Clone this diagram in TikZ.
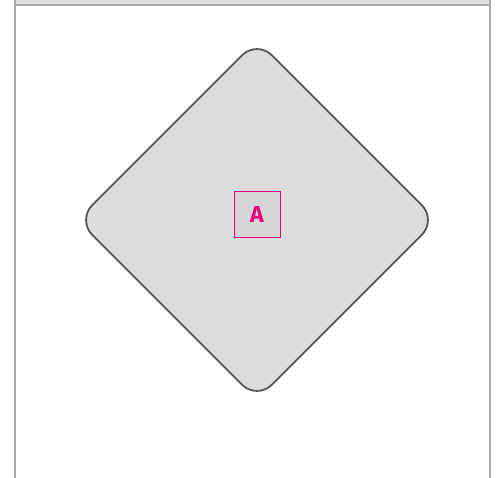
\documentclass[tikz,border=0pt]{standalone}
\usepackage{fontspec}
\setsansfont{Fira Sans}
\usetikzlibrary{shapes.geometric}
\definecolor{framecolor}{RGB}{168,168,168}
\definecolor{bandcolor}{RGB}{224,224,224}
\definecolor{fillgray}{RGB}{220,220,220}
\definecolor{boxgray}{RGB}{214,214,214}
\definecolor{edgecolor}{RGB}{85,85,85}
\definecolor{pinkcolor}{RGB}{230,0,126}

\begin{document}
\begin{tikzpicture}[x=1pt, y=-1pt]

% Picture size
\def\pagewidth{500}
\def\pageheight{478}
\useasboundingbox (0,0) rectangle (\pagewidth,\pageheight);

% Frame
\fill[bandcolor] (15,0) rectangle (490,5);
\draw[framecolor, line width=2pt] (15,5) -- (490,5);
\draw[framecolor, line width=2pt] (15,0) -- (15,\pageheight);
\draw[framecolor, line width=2pt] (490,0) -- (490,\pageheight);

% Rounded diamond
\node[diamond, draw=edgecolor, fill=fillgray, line width=1.8pt, rounded corners=21pt, minimum width=360pt, minimum height=360pt, inner sep=0pt] (rhombus) at (257,220) {};

% Label box
\node[draw=pinkcolor, fill=boxgray, line width=1pt, minimum width=46pt, minimum height=46pt, inner sep=0pt, text=pinkcolor, font=\sffamily\bfseries\fontsize{23}{23}\selectfont] (a) at (257,214.5) {A};

\end{tikzpicture}
\end{document}
